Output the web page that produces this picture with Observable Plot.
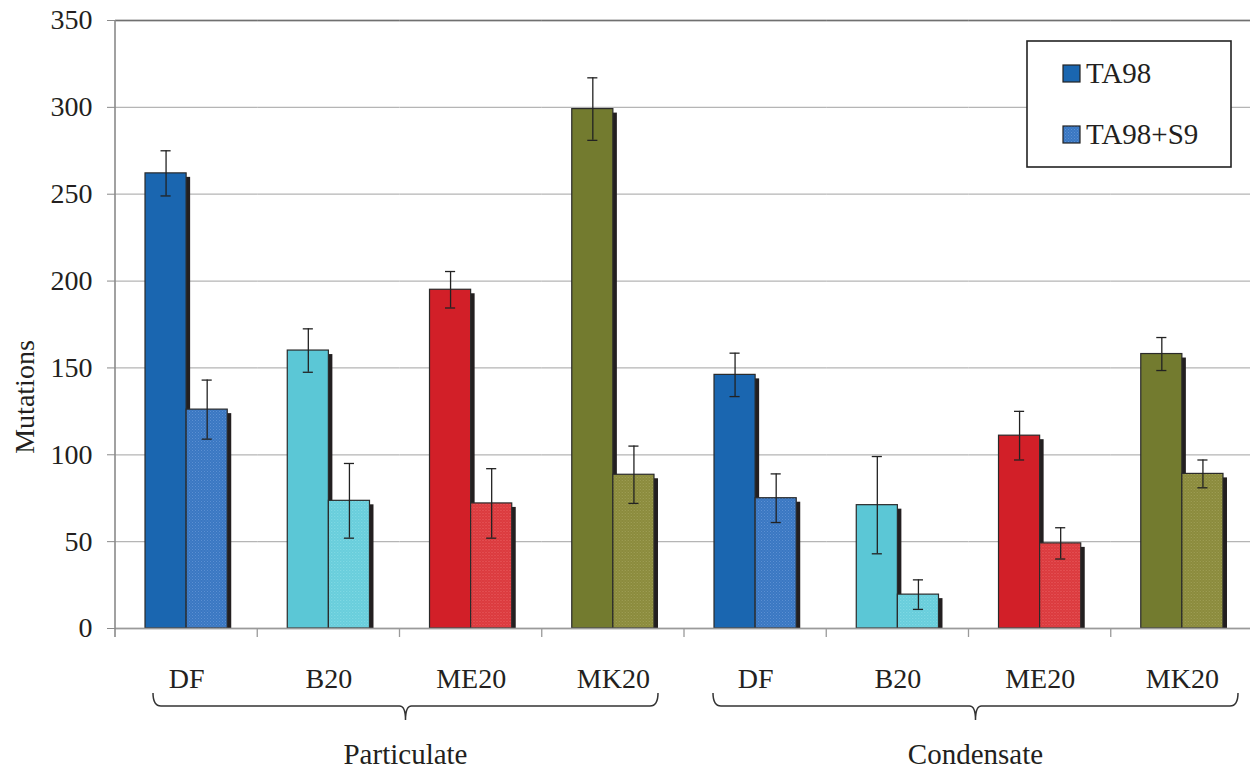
<!DOCTYPE html>
<html><head><meta charset="utf-8">
<script src="https://cdn.jsdelivr.net/npm/d3@7"></script>
<script src="https://cdn.jsdelivr.net/npm/@observablehq/plot@0.6"></script>
<style>body{margin:0;background:#fff;overflow:hidden} svg{display:block} svg text{font-family:"Liberation Serif","Times New Roman",Times,serif}</style>
</head><body><div id="chart"></div>
<script>
// ---- data ----
const fractions = ["Particulate","Particulate","Particulate","Particulate","Condensate","Condensate","Condensate","Condensate"];
const fuels = ["DF","B20","ME20","MK20","DF","B20","ME20","MK20"];
const seriesNames = ["TA98","TA98+S9"];
const ta98 = [262, 160, 195, 299, 146, 71, 111, 158];
const ta98Err = [13, 12.5, 10.5, 18, 12.5, 28, 14, 9.5];
const ta98s9 = [126, 73.5, 72, 88.5, 75, 19.5, 49, 89];
const ta98s9Err = [17, 21.5, 20, 16.5, 14, 8.5, 9, 8];
const yTicks = [0, 50, 100, 150, 200, 250, 300, 350];
const fuelColors = {DF: "#1a66b0", B20: "#5bc7d6", ME20: "#d21f28", MK20: "#737b2f"};
const fuelColorsS9 = {DF: "#3a77c2", B20: "#67cddb", ME20: "#db383c", MK20: "#8a8a3c"};
const fuelDotsS9 = {DF: "#5b90d2", B20: "#86dbe6", ME20: "#e86264", MK20: "#a2a25a"};

const keys = fuels.map((f, i) => fractions[i][0] + "-" + f);
const rows = [];
fuels.forEach((f, i) => {
  rows.push({key: keys[i], fuel: f, series: "TA98", value: ta98[i], err: ta98Err[i], fill: fuelColors[f]});
  rows.push({key: keys[i], fuel: f, series: "TA98+S9", value: ta98s9[i], err: ta98s9Err[i], fill: `url(#tex-${f})`});
});

const font = "Liberation Serif, Times New Roman, Times, serif";
const ink = "#231f20";

const plot = Plot.plot({
  width: 1250, height: 769,
  marginTop: 20, marginLeft: 115, marginRight: -3, marginBottom: 141,
  style: {fontFamily: font, background: "white", color: ink},
  fx: {domain: keys, padding: 0, round: false, axis: null},
  x: {domain: seriesNames, paddingInner: 0, paddingOuter: 0.73, round: false, axis: null},
  y: {domain: [0, 350], axis: null},
  color: {type: "identity"},
  marks: [
    Plot.gridY(yTicks, {stroke: "#b5b5b5", strokeOpacity: 1, strokeWidth: 1.3}),
    Plot.ruleY([350], {stroke: "#707070", strokeWidth: 1.6}),
    Plot.barY(rows, {fx: "key", x: "series", y: "value", fill: ink, dx: 4, insetTop: 4}),
    Plot.barY(rows, {fx: "key", x: "series", y: "value", fill: "fill", stroke: "#2a2a2a", strokeWidth: 1.2}),
    Plot.ruleX(rows, {fx: "key", x: "series", y1: d => d.value - d.err, y2: d => d.value + d.err, stroke: "#222", strokeWidth: 1.3}),
    Plot.tickY(rows, {fx: "key", x: "series", y: d => d.value + d.err, stroke: "#222", strokeWidth: 1.3, insetLeft: 15.5, insetRight: 15.5}),
    Plot.tickY(rows, {fx: "key", x: "series", y: d => d.value - d.err, stroke: "#222", strokeWidth: 1.3, insetLeft: 15.5, insetRight: 15.5}),
    Plot.ruleY([0], {stroke: "#9a9a9a", strokeWidth: 1.6}),
    Plot.axisY({ticks: yTicks, tickSize: 8, tickPadding: 15, fontSize: 28, label: null, stroke: "#8a8a8a", fill: ink, tickFormat: d => String(d)}),
    Plot.axisFx({anchor: "bottom", tickSize: 0, tickPadding: 40, fontSize: 28, label: null, fill: ink, tickFormat: k => k.split("-")[1]})
  ]
});
document.getElementById("chart").appendChild(plot);

// ---- annotations via scales ----
const svg = d3.select(plot);
const fx = plot.scale("fx");
const y = plot.scale("y");
const bw = fx.bandwidth;
const y0 = y.apply(0), yTop = y.apply(350);
const left = fx.apply(keys[0]);

// textures for TA98+S9 bars
const defs = svg.insert("defs", ":first-child");
Object.keys(fuelColorsS9).forEach(f => {
  const p = defs.append("pattern").attr("id", `tex-${f}`).attr("patternUnits", "userSpaceOnUse")
    .attr("width", 3).attr("height", 3);
  p.append("rect").attr("width", 3).attr("height", 3).attr("fill", fuelColorsS9[f]);
  p.append("rect").attr("x", 0).attr("y", 0).attr("width", 1).attr("height", 1).attr("fill", fuelDotsS9[f]);
  p.append("rect").attr("x", 1.5).attr("y", 1.5).attr("width", 1).attr("height", 1).attr("fill", fuelDotsS9[f]).attr("opacity", 0.7);
});

// y axis line
svg.append("line").attr("x1", left).attr("x2", left).attr("y1", yTop).attr("y2", y0 + 9)
  .attr("stroke", "#8a8a8a").attr("stroke-width", 1.6);
// category boundary ticks
keys.forEach(k => {
  const x = fx.apply(k) + bw;
  svg.append("line").attr("x1", x).attr("x2", x).attr("y1", y0).attr("y2", y0 + 9)
    .attr("stroke", "#9a9a9a").attr("stroke-width", 1.3);
});

// y label
svg.append("text").attr("transform", `translate(24,397) rotate(-90)`)
  .attr("text-anchor", "middle").attr("dominant-baseline", "central")
  .style("font-size", "28px").attr("fill", ink).text("Mutations");

// braces + group labels
const groupSpans = [
  {name: "Particulate", first: keys[0], last: keys[3], a: 38, b: 26},
  {name: "Condensate", first: keys[4], last: keys[7], a: 29, b: 15}
];
const yb = y0 + 78, yEnd = y0 + 65, yTip = y0 + 92;
groupSpans.forEach(g => {
  const x1 = fx.apply(g.first) + g.a;
  const x2 = fx.apply(g.last) + bw - g.b;
  const cx = (x1 + x2) / 2;
  const path = `M${x1},${yEnd} Q${x1},${yb} ${x1 + 8},${yb} L${cx - 6},${yb} Q${cx},${yb} ${cx},${yTip} Q${cx},${yb} ${cx + 6},${yb} L${x2 - 8},${yb} Q${x2},${yb} ${x2},${yEnd}`;
  svg.append("path").attr("d", path).attr("fill", "none").attr("stroke", "#333").attr("stroke-width", 1.5);
  svg.append("text").attr("x", cx).attr("y", y0 + 136).attr("text-anchor", "middle")
    .style("font-size", "29px").attr("fill", ink).text(g.name);
});

// legend
const lg = svg.append("g").attr("text-anchor", "start");
lg.append("rect").attr("x", 1027).attr("y", 41).attr("width", 204).attr("height", 126)
  .attr("fill", "white").attr("stroke", "#222").attr("stroke-width", 1.6);
const legendItems = [
  {label: seriesNames[0], fill: fuelColors.DF, yy: 65},
  {label: seriesNames[1], fill: "url(#tex-DF)", yy: 126}
];
legendItems.forEach(it => {
  lg.append("rect").attr("x", 1063).attr("y", it.yy).attr("width", 17).attr("height", 17)
    .attr("fill", it.fill).attr("stroke", "#222").attr("stroke-width", 1.2);
  lg.append("text").attr("x", 1086).attr("y", it.yy + 18).attr("text-anchor", "start")
    .style("font-size", "29px").attr("fill", ink).text(it.label);
});
</script>
</body></html>
